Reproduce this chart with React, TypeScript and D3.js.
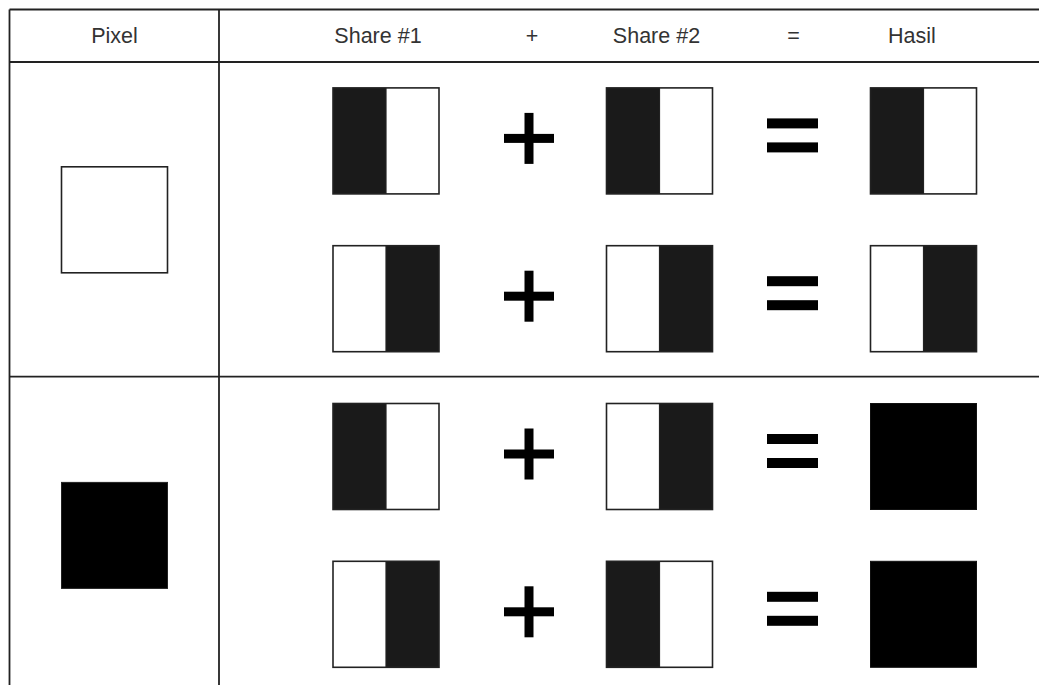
import React from 'react';
import * as d3 from 'd3';

// header labels and their columns
const headers = ['Pixel', 'Share #1', '+', 'Share #2', '=', 'Hasil'];
const headerX = [114.5, 378, 532, 656.5, 793.5, 912];

// one row per sub-pixel pattern, grouped by the secret pixel
const rows = ['r1', 'r2', 'r3', 'r4'];
const pixelGroups = ['white', 'black'];
const groupOfRow = ['white', 'white', 'black', 'black'];
const share1 = ['left', 'right', 'left', 'right'];
const share2 = ['left', 'right', 'right', 'left'];
const hasil = ['left', 'right', 'full', 'full'];

const cols = ['pixel', 'share1', 'plus', 'share2', 'equals', 'hasil'];
const colCenters = [114.5, 386, 529, 659.5, 792.5, 923.5];

const W = 1039;
const H = 685;
const BOX = 106;
const DARK = '#1a1a1a';
const LINE = '#222';

function Cell({ cx, cy, kind }: { cx: number; cy: number; kind: string }) {
    const x0 = cx - BOX / 2;
    const y0 = cy - BOX / 2;
    if (kind === 'full') {
        return <rect x={x0} y={y0} width={BOX} height={BOX} fill="#000" stroke="#111" strokeWidth={1} />;
    }
    const darkX = kind === 'left' ? x0 : cx;
    return (
        <g>
            <rect x={x0} y={y0} width={BOX} height={BOX} fill="#fff" />
            <rect x={darkX} y={y0} width={BOX / 2} height={BOX} fill={DARK} />
            <line x1={cx} x2={cx} y1={y0} y2={y0 + BOX} stroke={LINE} strokeWidth={1.2} />
            <rect x={x0} y={y0} width={BOX} height={BOX} fill="none" stroke={LINE} strokeWidth={1.6} />
        </g>
    );
}

export default function App() {
    const headerBottom = 62;
    const divX = 219;

    const yRow = d3.scaleBand<string>().domain(rows).range([headerBottom, headerBottom + 4 * 157.8]);
    const yGroup = d3.scaleBand<string>().domain(pixelGroups).range([headerBottom, headerBottom + 4 * 157.8]);
    const xCol = d3.scaleOrdinal<string, number>().domain(cols).range(colCenters);
    const rowMid = (r: string) => (yRow(r) as number) + yRow.bandwidth() / 2;
    const groupMid = (g: string) => (yGroup(g) as number) + yGroup.bandwidth() / 2;
    const groupSplit = (yGroup('black') as number) - 1;

    return (
        <svg width={W} height={H} style={{ position: 'absolute', left: 0, top: 0, background: '#fff' }}
            fontFamily="'Liberation Sans', Arial, sans-serif">
            <rect x={0} y={0} width={W} height={H} fill="#fff" />

            {/* table grid */}
            <line x1={9.5} x2={W} y1={9.5} y2={9.5} stroke={LINE} strokeWidth={1.8} />
            <line x1={9.5} x2={W} y1={headerBottom} y2={headerBottom} stroke={LINE} strokeWidth={1.8} />
            <line x1={9.5} x2={W} y1={groupSplit} y2={groupSplit} stroke={LINE} strokeWidth={1.8} />
            <line x1={9.5} x2={9.5} y1={9.5} y2={H} stroke={LINE} strokeWidth={1.8} />
            <line x1={divX} x2={divX} y1={9.5} y2={H} stroke={LINE} strokeWidth={1.8} />

            {/* header */}
            {headers.map((h, i) => (
                <text key={h} x={headerX[i]} y={43} textAnchor="middle" fontSize={21.5} fill="#333">{h}</text>
            ))}

            {/* secret pixel */}
            {pixelGroups.map(g => (
                <rect key={g} x={xCol('pixel') - BOX / 2} y={groupMid(g) - BOX / 2} width={BOX} height={BOX}
                    fill={g === 'black' ? '#000' : '#fff'} stroke={LINE} strokeWidth={g === 'black' ? 1 : 1.6} />
            ))}

            {rows.map((r, i) => {
                const cy = rowMid(r);
                const px = xCol('plus');
                const ex = xCol('equals');
                return (
                    <g key={r} data-group={groupOfRow[i]}>
                        <Cell cx={xCol('share1')} cy={cy} kind={share1[i]} />
                        <rect x={px - 25} y={cy - 2.5 - 4.5} width={50} height={9} fill="#000" />
                        <rect x={px - 4.5} y={cy - 2.5 - 25.5} width={9} height={51} fill="#000" />
                        <Cell cx={xCol('share2')} cy={cy} kind={share2[i]} />
                        <rect x={ex - 25.5} y={cy - 5.5 - 17} width={51} height={10} fill="#000" />
                        <rect x={ex - 25.5} y={cy - 5.5 + 7} width={51} height={10} fill="#000" />
                        <Cell cx={xCol('hasil')} cy={cy} kind={hasil[i]} />
                    </g>
                );
            })}
        </svg>
    );
}
